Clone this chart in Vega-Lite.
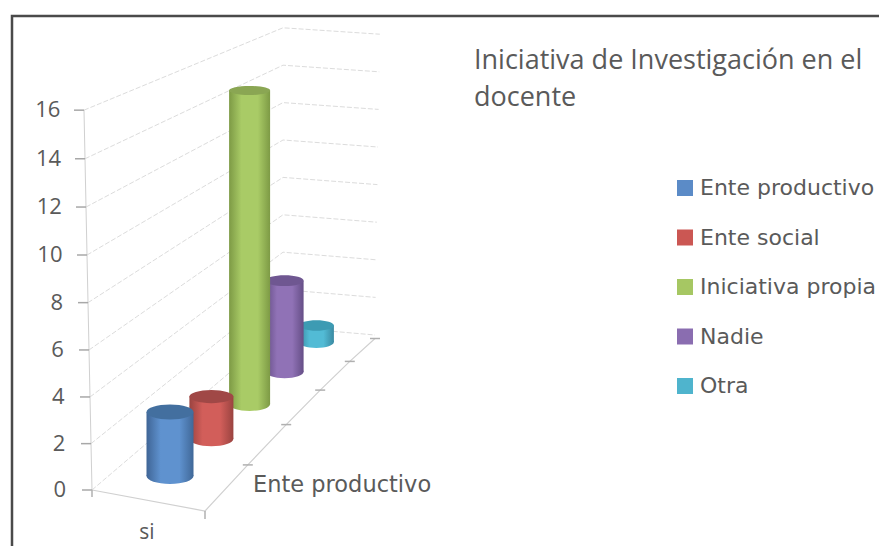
{
"$schema":"https://vega.github.io/schema/vega-lite/v6.json",
"width":880,"height":540,"autosize":"none",
"padding":{"left":12,"top":16,"right":0,"bottom":0},
"background":"white",
"view":{"stroke":"#4a4a4a","strokeWidth":2.5},
"title":{"text":["Iniciativa de Investigación en el","docente"],"anchor":"start","frame":"group","align":"left","dx":462,"dy":117,"offset":0,"baseline":"alphabetic","font":"Open Sans","fontSize":27,"fontWeight":"normal","color":"#5a5a5a","lineHeight":37},
"datasets":{
"grid":[
{"v":0,"seg":0},{"v":0,"seg":1},{"v":0,"seg":2},{"v":2,"seg":0},{"v":2,"seg":1},{"v":2,"seg":2},{"v":4,"seg":0},{"v":4,"seg":1},{"v":4,"seg":2},{"v":6,"seg":0},{"v":6,"seg":1},{"v":6,"seg":2},{"v":8,"seg":0},{"v":8,"seg":1},{"v":8,"seg":2},{"v":10,"seg":0},{"v":10,"seg":1},{"v":10,"seg":2},{"v":12,"seg":0},{"v":12,"seg":1},{"v":12,"seg":2},{"v":14,"seg":0},{"v":14,"seg":1},{"v":14,"seg":2},{"v":16,"seg":0},{"v":16,"seg":1},{"v":16,"seg":2}],
"edge":[{"k":-1},{"k":0},{"k":1},{"k":2},{"k":3},{"k":4},{"k":5}],
"labels":[{"label":"si","role":"cat"},{"label":"Ente productivo","role":"depth"}],
"bars":[
{"series":"Otra","value":0.8},
{"series":"Nadie","value":4.4},
{"series":"Iniciativa propia","value":15},
{"series":"Ente social","value":2},
{"series":"Ente productivo","value":3}]
},
"layer":[
{"data":{"name":"grid"},
 "transform":[
 {"calculate":"datum.seg==0?92-0.5*datum.v:(datum.seg==1?283:375+0.3*datum.v)","as":"px"},
 {"calculate":"datum.seg==0?490-(23.1+0.04*datum.v)*datum.v:(datum.seg==1?327-18.7*datum.v:335-18.8*datum.v)","as":"py"}],
 "mark":{"type":"line","stroke":"#dcdcdc","strokeWidth":1,"strokeDash":[5,2]},
 "encoding":{"x":{"field":"px","type":"quantitative","scale":{"domain":[12,892]},"axis":null},"y":{"field":"py","type":"quantitative","scale":{"domain":[556,16]},"axis":null},"detail":{"field":"v"},"order":{"field":"seg"}}},
{"data":{"name":"grid"},
 "transform":[{"filter":"datum.seg==0"},
 {"calculate":"92-0.5*datum.v","as":"px"},{"calculate":"490-(23.1+0.04*datum.v)*datum.v","as":"py"}],
 "mark":{"type":"line","stroke":"#d0d0d0","strokeWidth":1},
 "encoding":{"x":{"field":"px","type":"quantitative","scale":{"domain":[12,892]},"axis":null},"y":{"field":"py","type":"quantitative","scale":{"domain":[556,16]},"axis":null},"order":{"field":"v"}}},
{"data":{"name":"grid"},
 "transform":[{"filter":"datum.seg==0"},
 {"calculate":"82-0.5*datum.v","as":"px"},{"calculate":"92-0.5*datum.v","as":"px2"},{"calculate":"490-(23.1+0.04*datum.v)*datum.v","as":"py"}],
 "mark":{"type":"rule","stroke":"#a8a8a8","strokeWidth":1.5},
 "encoding":{"x":{"field":"px","type":"quantitative","scale":{"domain":[12,892]},"axis":null},"x2":{"field":"px2"},"y":{"field":"py","type":"quantitative","scale":{"domain":[556,16]},"axis":null}}},
{"data":{"name":"grid"},
 "transform":[{"filter":"datum.seg==0"},
 {"calculate":"66-0.35*datum.v","as":"px"},{"calculate":"490-(23.1+0.04*datum.v)*datum.v","as":"py"}],
 "mark":{"type":"text","align":"right","baseline":"middle","font":"Open Sans","fontSize":22,"color":"#5a5a5a"},
 "encoding":{"x":{"field":"px","type":"quantitative","scale":{"domain":[12,892]},"axis":null},"y":{"field":"py","type":"quantitative","scale":{"domain":[556,16]},"axis":null},"text":{"field":"v","type":"quantitative"}}},
{"data":{"name":"edge"},
 "transform":[
 {"calculate":"datum.k<0?92:205+45*datum.k-2.2*datum.k*datum.k","as":"px"},
 {"calculate":"datum.k<0?490:511-49*datum.k+2.9*datum.k*datum.k","as":"py"}],
 "mark":{"type":"line","stroke":"#d0d0d0","strokeWidth":1.2},
 "encoding":{"x":{"field":"px","type":"quantitative","scale":{"domain":[12,892]},"axis":null},"y":{"field":"py","type":"quantitative","scale":{"domain":[556,16]},"axis":null},"order":{"field":"k"}}},
{"data":{"name":"edge"},
 "transform":[{"filter":"datum.k>0"},
 {"calculate":"200+45*datum.k-2.2*datum.k*datum.k","as":"px"},
 {"calculate":"210+45*datum.k-2.2*datum.k*datum.k","as":"px2"},
 {"calculate":"511-49*datum.k+2.9*datum.k*datum.k","as":"py"}],
 "mark":{"type":"rule","stroke":"#b0b0b0","strokeWidth":1.5},
 "encoding":{"x":{"field":"px","type":"quantitative","scale":{"domain":[12,892]},"axis":null},"x2":{"field":"px2"},"y":{"field":"py","type":"quantitative","scale":{"domain":[556,16]},"axis":null}}},
{"data":{"name":"edge"},
 "transform":[{"filter":"datum.k<=0"},
 {"calculate":"datum.k<0?92:205","as":"px"},
 {"calculate":"datum.k<0?490:511","as":"py"},
 {"calculate":"datum.k<0?497:519","as":"py2"}],
 "mark":{"type":"rule","stroke":"#b0b0b0","strokeWidth":1.5},
 "encoding":{"x":{"field":"px","type":"quantitative","scale":{"domain":[12,892]},"axis":null},"y":{"field":"py","type":"quantitative","scale":{"domain":[556,16]},"axis":null},"y2":{"field":"py2"}}},
{"data":{"name":"labels"},
 "transform":[
 {"calculate":"datum.role=='cat'?147:253","as":"px"},
 {"calculate":"datum.role=='cat'?533:485","as":"py"}],
 "layer":[
 {"transform":[{"filter":"datum.role=='cat'"}],"mark":{"type":"text","align":"center","baseline":"middle","font":"Open Sans","fontSize":21,"color":"#5a5a5a"},
 "encoding":{"x":{"field":"px","type":"quantitative","scale":{"domain":[12,892]},"axis":null},"y":{"field":"py","type":"quantitative","scale":{"domain":[556,16]},"axis":null},"text":{"field":"label"}}},
 {"transform":[{"filter":"datum.role=='depth'"}],"mark":{"type":"text","align":"left","baseline":"middle","font":"DejaVu Sans","fontSize":22.5,"color":"#5a5a5a"},
 "encoding":{"x":{"field":"px","type":"quantitative","scale":{"domain":[12,892]},"axis":null},"y":{"field":"py","type":"quantitative","scale":{"domain":[556,16]},"axis":null},"text":{"field":"label"}}}
 ]},
{"data":{"name":"bars"},
 "transform":[
 {"calculate":"indexof(['Ente productivo','Ente social','Iniciativa propia','Nadie','Otra'],datum.series)","as":"i"},
 {"calculate":"170+43*datum.i-1.6*datum.i*datum.i","as":"cx"},
 {"calculate":"476-38.5*datum.i+1.25*datum.i*datum.i","as":"base"},
 {"calculate":"datum.base-datum.value*(21.3-0.2*datum.i)","as":"top"},
 {"calculate":"47-3*datum.i","as":"w"},
 {"calculate":"datum.cx-datum.w/2","as":"x0"},
 {"calculate":"datum.cx+datum.w/2","as":"x1"},
 {"calculate":"datum.w*datum.w","as":"sz"}],
 "layer":[
 {"mark":{"type":"point","filled":true,"opacity":0},
 "encoding":{"x":{"field":"cx","type":"quantitative","scale":{"domain":[12,892]},"axis":null},"y":{"field":"base","type":"quantitative","scale":{"domain":[556,16]},"axis":null},
 "color":{"field":"series","type":"nominal","scale":{"domain":["Ente productivo","Ente social","Iniciativa propia","Nadie","Otra"],"range":["#5b8bc7","#cb5753","#a6c763","#8a6db0","#4fb4cd"]},
 "legend":{"title":null,"orient":"none","legendX":662,"legendY":161,"symbolType":"square","symbolSize":256,"symbolStrokeWidth":0,"symbolOpacity":1,"labelFont":"DejaVu Sans","labelFontSize":22,"labelColor":"#5a5a5a","labelOffset":4,"labelLimit":300,"rowPadding":27.5,"padding":0}}}},
 {"transform":[{"filter":"datum.series=='Otra'"}],"layer":[
  {"mark":{"type":"point","filled":true,"opacity":1,"shape":"M-1,0A1,.34 0 1 1 1,0A1,.34 0 1 1 -1,0Z","color":{"gradient":"linear","x1":0,"y1":0,"x2":1,"y2":0,"stops":[{"offset":0,"color":"#3a8aa2"},{"offset":0.3,"color":"#52bbd5"},{"offset":0.7,"color":"#52bbd5"},{"offset":1,"color":"#3a8aa2"}]}},
   "encoding":{"x":{"field":"cx","type":"quantitative","scale":{"domain":[12,892]},"axis":null},"y":{"field":"base","type":"quantitative","scale":{"domain":[556,16]},"axis":null},"size":{"field":"sz","type":"quantitative","scale":null}}},
  {"mark":{"type":"rect","color":{"gradient":"linear","x1":0,"y1":0,"x2":1,"y2":0,"stops":[{"offset":0,"color":"#3a8aa2"},{"offset":0.3,"color":"#52bbd5"},{"offset":0.7,"color":"#52bbd5"},{"offset":1,"color":"#3a8aa2"}]}},
   "encoding":{"x":{"field":"x0","type":"quantitative","scale":{"domain":[12,892]},"axis":null},"x2":{"field":"x1"},"y":{"field":"top","type":"quantitative","scale":{"domain":[556,16]},"axis":null},"y2":{"field":"base"}}},
  {"mark":{"type":"point","filled":true,"opacity":1,"color":"#3d9bb3","shape":"M-1,0A1,.3 0 1 1 1,0A1,.3 0 1 1 -1,0Z"},
   "encoding":{"x":{"field":"cx","type":"quantitative","scale":{"domain":[12,892]},"axis":null},"y":{"field":"top","type":"quantitative","scale":{"domain":[556,16]},"axis":null},"size":{"field":"sz","type":"quantitative","scale":null}}}]},
 {"transform":[{"filter":"datum.series=='Nadie'"}],"layer":[
  {"mark":{"type":"point","filled":true,"opacity":1,"shape":"M-1,0A1,.34 0 1 1 1,0A1,.34 0 1 1 -1,0Z","color":{"gradient":"linear","x1":0,"y1":0,"x2":1,"y2":0,"stops":[{"offset":0,"color":"#654e86"},{"offset":0.3,"color":"#9072b6"},{"offset":0.7,"color":"#9072b6"},{"offset":1,"color":"#654e86"}]}},
   "encoding":{"x":{"field":"cx","type":"quantitative","scale":{"domain":[12,892]},"axis":null},"y":{"field":"base","type":"quantitative","scale":{"domain":[556,16]},"axis":null},"size":{"field":"sz","type":"quantitative","scale":null}}},
  {"mark":{"type":"rect","color":{"gradient":"linear","x1":0,"y1":0,"x2":1,"y2":0,"stops":[{"offset":0,"color":"#654e86"},{"offset":0.3,"color":"#9072b6"},{"offset":0.7,"color":"#9072b6"},{"offset":1,"color":"#654e86"}]}},
   "encoding":{"x":{"field":"x0","type":"quantitative","scale":{"domain":[12,892]},"axis":null},"x2":{"field":"x1"},"y":{"field":"top","type":"quantitative","scale":{"domain":[556,16]},"axis":null},"y2":{"field":"base"}}},
  {"mark":{"type":"point","filled":true,"opacity":1,"color":"#6f5791","shape":"M-1,0A1,.28 0 1 1 1,0A1,.28 0 1 1 -1,0Z"},
   "encoding":{"x":{"field":"cx","type":"quantitative","scale":{"domain":[12,892]},"axis":null},"y":{"field":"top","type":"quantitative","scale":{"domain":[556,16]},"axis":null},"size":{"field":"sz","type":"quantitative","scale":null}}}]},
 {"transform":[{"filter":"datum.series=='Iniciativa propia'"}],"layer":[
  {"mark":{"type":"point","filled":true,"opacity":1,"shape":"M-1,0A1,.34 0 1 1 1,0A1,.34 0 1 1 -1,0Z","color":{"gradient":"linear","x1":0,"y1":0,"x2":1,"y2":0,"stops":[{"offset":0,"color":"#7d9a45"},{"offset":0.3,"color":"#a9cb66"},{"offset":0.7,"color":"#a9cb66"},{"offset":1,"color":"#7d9a45"}]}},
   "encoding":{"x":{"field":"cx","type":"quantitative","scale":{"domain":[12,892]},"axis":null},"y":{"field":"base","type":"quantitative","scale":{"domain":[556,16]},"axis":null},"size":{"field":"sz","type":"quantitative","scale":null}}},
  {"mark":{"type":"rect","color":{"gradient":"linear","x1":0,"y1":0,"x2":1,"y2":0,"stops":[{"offset":0,"color":"#7d9a45"},{"offset":0.3,"color":"#a9cb66"},{"offset":0.7,"color":"#a9cb66"},{"offset":1,"color":"#7d9a45"}]}},
   "encoding":{"x":{"field":"x0","type":"quantitative","scale":{"domain":[12,892]},"axis":null},"x2":{"field":"x1"},"y":{"field":"top","type":"quantitative","scale":{"domain":[556,16]},"axis":null},"y2":{"field":"base"}}},
  {"mark":{"type":"point","filled":true,"opacity":1,"color":"#8aa653","shape":"M-1,0A1,.22 0 1 1 1,0A1,.22 0 1 1 -1,0Z"},
   "encoding":{"x":{"field":"cx","type":"quantitative","scale":{"domain":[12,892]},"axis":null},"y":{"field":"top","type":"quantitative","scale":{"domain":[556,16]},"axis":null},"size":{"field":"sz","type":"quantitative","scale":null}}}]},
 {"transform":[{"filter":"datum.series=='Ente social'"}],"layer":[
  {"mark":{"type":"point","filled":true,"opacity":1,"shape":"M-1,0A1,.34 0 1 1 1,0A1,.34 0 1 1 -1,0Z","color":{"gradient":"linear","x1":0,"y1":0,"x2":1,"y2":0,"stops":[{"offset":0,"color":"#9a4340"},{"offset":0.3,"color":"#d25e5a"},{"offset":0.7,"color":"#d25e5a"},{"offset":1,"color":"#9a4340"}]}},
   "encoding":{"x":{"field":"cx","type":"quantitative","scale":{"domain":[12,892]},"axis":null},"y":{"field":"base","type":"quantitative","scale":{"domain":[556,16]},"axis":null},"size":{"field":"sz","type":"quantitative","scale":null}}},
  {"mark":{"type":"rect","color":{"gradient":"linear","x1":0,"y1":0,"x2":1,"y2":0,"stops":[{"offset":0,"color":"#9a4340"},{"offset":0.3,"color":"#d25e5a"},{"offset":0.7,"color":"#d25e5a"},{"offset":1,"color":"#9a4340"}]}},
   "encoding":{"x":{"field":"x0","type":"quantitative","scale":{"domain":[12,892]},"axis":null},"x2":{"field":"x1"},"y":{"field":"top","type":"quantitative","scale":{"domain":[556,16]},"axis":null},"y2":{"field":"base"}}},
  {"mark":{"type":"point","filled":true,"opacity":1,"color":"#a04846","shape":"M-1,0A1,.3 0 1 1 1,0A1,.3 0 1 1 -1,0Z"},
   "encoding":{"x":{"field":"cx","type":"quantitative","scale":{"domain":[12,892]},"axis":null},"y":{"field":"top","type":"quantitative","scale":{"domain":[556,16]},"axis":null},"size":{"field":"sz","type":"quantitative","scale":null}}}]},
 {"transform":[{"filter":"datum.series=='Ente productivo'"}],"layer":[
  {"mark":{"type":"point","filled":true,"opacity":1,"shape":"M-1,0A1,.34 0 1 1 1,0A1,.34 0 1 1 -1,0Z","color":{"gradient":"linear","x1":0,"y1":0,"x2":1,"y2":0,"stops":[{"offset":0,"color":"#3f6596"},{"offset":0.3,"color":"#5f92cf"},{"offset":0.7,"color":"#5f92cf"},{"offset":1,"color":"#406898"}]}},
   "encoding":{"x":{"field":"cx","type":"quantitative","scale":{"domain":[12,892]},"axis":null},"y":{"field":"base","type":"quantitative","scale":{"domain":[556,16]},"axis":null},"size":{"field":"sz","type":"quantitative","scale":null}}},
  {"mark":{"type":"rect","color":{"gradient":"linear","x1":0,"y1":0,"x2":1,"y2":0,"stops":[{"offset":0,"color":"#3f6596"},{"offset":0.3,"color":"#5f92cf"},{"offset":0.7,"color":"#5f92cf"},{"offset":1,"color":"#406898"}]}},
   "encoding":{"x":{"field":"x0","type":"quantitative","scale":{"domain":[12,892]},"axis":null},"x2":{"field":"x1"},"y":{"field":"top","type":"quantitative","scale":{"domain":[556,16]},"axis":null},"y2":{"field":"base"}}},
  {"mark":{"type":"point","filled":true,"opacity":1,"color":"#436f9f","shape":"M-1,0A1,.32 0 1 1 1,0A1,.32 0 1 1 -1,0Z"},
   "encoding":{"x":{"field":"cx","type":"quantitative","scale":{"domain":[12,892]},"axis":null},"y":{"field":"top","type":"quantitative","scale":{"domain":[556,16]},"axis":null},"size":{"field":"sz","type":"quantitative","scale":null}}}]}
 ]}
]
}
